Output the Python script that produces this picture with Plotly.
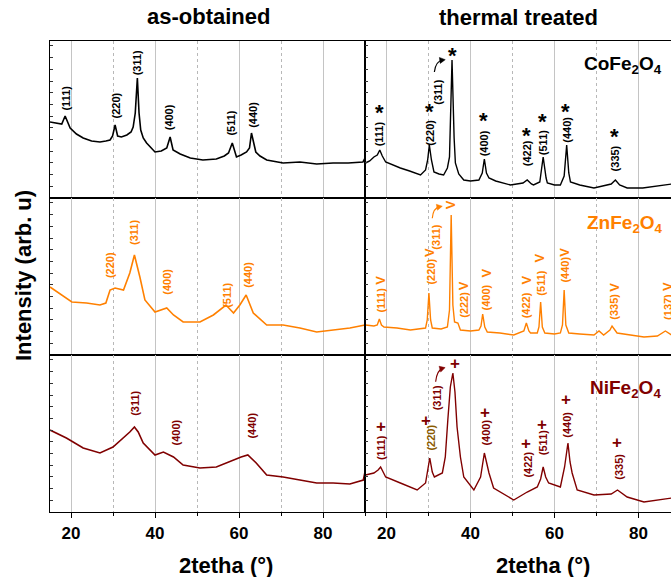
import math
import plotly.graph_objects as go
from plotly.subplots import make_subplots

# ---------------- data ----------------
# intensity in arbitrary units (0..157 per panel)
CO_AS_X = [15, 16.5, 17.8, 18.6, 19.8, 21.3, 22.9, 24.9, 26.9, 28.3, 29.3, 29.9, 30.5, 31.1, 32.0, 33.3,
           34.3, 34.8, 35.3, 35.8, 36.2, 36.6, 37.2, 38.0, 40.0, 41.5, 42.8, 43.6, 44.3, 46.0, 48.4, 51.4,
           54.6, 56.5, 57.5, 58.4, 59.4, 60.5, 61.8, 62.5, 62.97, 64.0, 65.0, 66.6, 70.5, 74.5, 78.5, 82.4,
           86.0, 89.5, 90]
CO_AS_Y = [76, 75, 74, 82, 70, 64, 60, 57, 56, 57, 58, 62, 73, 62, 61, 63,
           66, 71, 85, 120, 85, 68, 60, 55, 46, 47, 50, 61, 48, 44, 40, 38,
           39, 42, 45, 55, 41, 43, 46, 50, 65, 46, 42, 38, 35, 36, 34, 35,
           35, 36, 40]

CO_TT_X = [15, 16, 17, 17.8, 18.4, 19.0, 19.8, 21.5, 23.3, 25.5, 28.1, 29.3, 29.8, 30.2, 30.7, 31.3,
           32.5, 33.6, 34.5, 35.0, 35.6, 36.1, 36.4, 37.2, 38.4, 40.0, 42.0, 42.8, 43.3, 43.8, 44.4, 46.0,
           49.5, 52.5, 53.5, 54.5, 55.0, 56.5, 57.3, 58.0, 58.3, 60.0, 61.4, 62.3, 62.9, 63.4, 63.8, 66.0,
           69.4, 73.5, 74.5, 75.5, 77.3, 81.0, 85.2, 87.9]
CO_TT_Y = [35, 37, 41, 43, 48, 42, 36, 33, 30, 27, 23, 28, 38, 53, 38, 26,
           24, 23, 30, 41, 138, 60, 35, 24, 18, 17, 18, 25, 39, 25, 20, 17,
           13, 15, 18, 14, 13, 16, 41, 20, 15, 13, 13, 22, 53, 25, 16, 13,
           10, 14, 18, 13, 10, 10, 12, 14]

ZN_AS_X = [15, 17, 20.2, 23.7, 26.9, 28.3, 29.3, 30.5, 32.5, 34.0, 35.1, 36.4, 37.6, 40.0, 42.8, 44.4,
           46.7, 50.7, 53.9, 56.9, 58.7, 60.2, 61.7, 63.4, 66.6, 70.5, 74.5, 78.5, 82.4, 86.4, 90]
ZN_AS_Y = [68, 62, 53, 52, 50, 52, 65, 67, 65, 82, 100, 78, 55, 43, 47, 40,
           33, 33, 40, 50, 42, 50, 60, 42, 30, 30, 27, 23, 25, 27, 30]

ZN_TT_X = [15, 17, 17.8, 18.3, 18.8, 19.4, 22.5, 25.7, 29.3, 29.7, 30.1, 30.5, 30.9, 33.0, 34.5, 35.0,
           35.4, 35.8, 36.2, 37.0, 37.6, 40.0, 42.0, 42.5, 42.9, 43.4, 44.0, 47.0, 50.3, 52.7, 53.3, 53.9,
           54.3, 55.9, 56.3, 56.7, 57.1, 57.7, 60.0, 61.4, 61.9, 62.3, 62.7, 63.4, 66.0, 69.4, 70.6, 71.7,
           73.2, 73.7, 74.9, 78.0, 81.3, 84.5, 86.4, 87.9]
ZN_TT_Y = [30, 29, 30, 36, 30, 28, 27, 25, 27, 35, 62, 35, 27, 26, 28, 45,
           140, 50, 33, 32, 25, 24, 25, 29, 41, 28, 23, 22, 20, 24, 32, 24,
           22, 22, 28, 53, 28, 22, 21, 22, 30, 65, 30, 22, 21, 20, 24, 20,
           25, 29, 22, 20, 18, 19, 24, 20]

NI_AS_X = [15, 18.9, 22.9, 26.9, 30.0, 32.5, 34.0, 35.1, 36.0, 37.2, 40.0, 42.0, 44.4, 46.7, 50.7, 54.6,
           58.6, 60.5, 62.1, 64.1, 66.6, 70.5, 74.5, 78.5, 82.4, 86.4, 89.6, 90]
NI_AS_Y = [82, 74, 64, 59, 65, 74, 80, 85, 80, 69, 57, 60, 55, 47, 44, 45,
           52, 55, 57, 49, 37, 35, 32, 29, 29, 28, 32, 40]

NI_TT_X = [15, 17, 18.0, 18.6, 19.2, 19.8, 23.3, 27.3, 29.3, 29.8, 30.3, 30.9, 31.4, 33.3, 34.0, 34.6,
           35.2, 35.8, 36.3, 36.8, 37.6, 38.4, 40.8, 42.4, 42.9, 43.3, 43.8, 44.4, 45.5, 50.3, 53.5, 55.9,
           56.7, 57.3, 57.9, 58.6, 61.4, 62.4, 63.2, 63.7, 64.2, 65.4, 69.4, 73.5, 75.0, 77.3, 81.3, 84.5,
           87.9]
NI_TT_Y = [37, 39, 42, 45, 40, 35, 29, 22, 29, 40, 54, 40, 35, 39, 55, 92,
           125, 139, 120, 85, 55, 35, 22, 35, 50, 59, 50, 39, 24, 12, 20, 25,
           33, 45, 35, 29, 25, 45, 69, 50, 39, 22, 17, 18, 22, 15, 10, 12,
           14]

# hkl labels: (text, x, y)
CO_AS_HKL = [("(111)", 18.7, 100), ("(220)", 30.6, 92), ("(311)", 35.8, 135),
             ("(400)", 43.4, 81), ("(511)", 58.0, 75), ("(440)", 63.3, 83)]
ZN_AS_HKL = [("(220)", 29.3, 90), ("(311)", 35.0, 122), ("(400)", 42.8, 73),
             ("(511)", 57.1, 60), ("(440)", 62.1, 80)]
NI_AS_HKL = [("(311)", 35.2, 109), ("(400)", 45.1, 80), ("(440)", 63.0, 86)]

# (text, x, y, marker_x, marker_y)
CO_TT_HKL = [("(111)", 18.3, 64, 18.3, 86), ("(220)", 30.3, 65, 30.3, 87), ("(311)", 32.2, 106, 35.8, 143),
             ("(400)", 43.3, 55, 43.2, 78), ("(422)", 53.5, 45, 53.3, 63), ("(511)", 57.3, 55, 57.1, 77),
             ("(440)", 62.9, 68, 62.6, 87), ("(335)", 74.5, 40, 74.3, 62)]
ZN_TT_HKL = [("(111)", 18.6, 55, 18.4, 75), ("(220)", 30.5, 83, 30.1, 103), ("(311)", 31.7, 118, 35.2, 150),
             ("(222)", 38.4, 50, 38.3, 69), ("(400)", 43.8, 58, 43.8, 82), ("(422)", 53.3, 50, 53.1, 75),
             ("(511)", 56.7, 72, 56.4, 97), ("(440)", 62.4, 85, 62.2, 103), ("(335)", 74.1, 48, 74.1, 68),
             ("(137)", 87.0, 48, 86.8, 68)]
NI_TT_HKL = [("(111)", 18.7, 64, 18.6, 86), ("(220)", 30.5, 74, 29.5, 92), ("(311)", 32.1, 114, 36.3, 149),
             ("(400)", 43.6, 79, 43.4, 100), ("(422)", 53.6, 47, 53.3, 69), ("(511)", 57.3, 69, 57.1, 88),
             ("(440)", 62.9, 87, 62.8, 113), ("(335)", 75.3, 45, 74.9, 70)]

X_TICKS = [20, 40, 60, 80]
BLACK = "#000000"
ORANGE = "#FF8000"
DRED = "#800000"
BROWN = "#8a5a00"
FONT = "Liberation Sans, Arial, sans-serif"

W, H = 671, 577
PX_PER_X = 4.2

fig = make_subplots(rows=3, cols=2, horizontal_spacing=0, vertical_spacing=0)

xl = [50 / W, 365.5 / W]
xr = [365.5 / W, 1.0]
rows_px = [(41, 198), (198, 355), (355, 512)]
ydom = [[1 - b / H, 1 - t / H] for t, b in rows_px]

series = [
    (CO_AS_X, CO_AS_Y, 1, 1, BLACK), (CO_TT_X, CO_TT_Y, 1, 2, BLACK),
    (ZN_AS_X, ZN_AS_Y, 2, 1, ORANGE), (ZN_TT_X, ZN_TT_Y, 2, 2, ORANGE),
    (NI_AS_X, NI_AS_Y, 3, 1, DRED), (NI_TT_X, NI_TT_Y, 3, 2, DRED),
]
for xs, ys, r, c, col in series:
    fig.add_trace(go.Scatter(x=xs, y=ys, mode="lines",
                             line=dict(color=col, width=1.6 if c == 1 else 1.4),
                             hoverinfo="skip"), row=r, col=c)

def ax_id(r, c):
    n = (r - 1) * 2 + c
    return ("x" if n == 1 else f"x{n}"), ("y" if n == 1 else f"y{n}")

for r in range(1, 4):
    for c in range(1, 3):
        n = (r - 1) * 2 + c
        xname = "xaxis" if n == 1 else f"xaxis{n}"
        yname = "yaxis" if n == 1 else f"yaxis{n}"
        bottom = (r == 3)
        fig.layout[xname].update(
            domain=xl if c == 1 else xr,
            range=[15, 15 + 315.5 / PX_PER_X] if c == 1 else [15, 15 + 305.5 / PX_PER_X],
            tickvals=X_TICKS, ticktext=[str(v) for v in X_TICKS],
            showticklabels=bottom,
            ticks="outside" if bottom else "", ticklen=5, tickwidth=1.2, tickcolor="black",
            tickfont=dict(family=FONT, size=17, color="black", weight="bold"),
            showgrid=True, gridcolor="#c4c4c4", gridwidth=1,
            minor=dict(dtick=10, tick0=0, showgrid=True, griddash="dot", gridcolor="#b8b8b8",
                       gridwidth=1, ticks="outside" if bottom else "", ticklen=3, tickcolor="black"),
            showline=True, linecolor="black", linewidth=1.3, mirror=True, zeroline=False,
        )
        fig.layout[yname].update(
            domain=ydom[r - 1], range=[0, 157], showticklabels=False,
            ticks="inside", ticklen=3, tickwidth=1, tickcolor="#333333", dtick=11.7, tick0=0,
            showgrid=False, zeroline=False, showline=True, linecolor="black",
            linewidth=1.2 if c == 1 else 1.8, mirror=False,
        )

annotations = []

def bold(size, color):
    return dict(family=FONT, size=size, color=color, weight="bold")

def add_hkl(lst, r, c, color):
    xa, ya = ax_id(r, c)
    for t, x, y in lst:
        annotations.append(dict(text=t, x=x, y=y, xref=xa, yref=ya, showarrow=False,
                                xanchor="center", yanchor="middle",
                                textangle=-90, font=bold(11, color)))

add_hkl(CO_AS_HKL, 1, 1, BLACK)
add_hkl(ZN_AS_HKL, 2, 1, ORANGE)
add_hkl(NI_AS_HKL, 3, 1, DRED)

def add_tt(lst, r, color, marker, msize, mangle, mdy, special=None):
    xa, ya = ax_id(r, 2)
    for t, x, y, mx, my in lst:
        col = special.get(t, color) if special else color
        annotations.append(dict(text=t, x=x, y=y, xref=xa, yref=ya, showarrow=False,
                                xanchor="center", yanchor="middle",
                                textangle=-90, font=bold(11, col)))
        annotations.append(dict(text=marker, x=mx, y=my + mdy, xref=xa, yref=ya, showarrow=False,
                                xanchor="center", yanchor="middle",
                                textangle=mangle, font=bold(msize, color)))

add_tt(CO_TT_HKL, 1, BLACK, "*", 22, 0, -1)
add_tt(ZN_TT_HKL, 2, ORANGE, "V", 13, -90, 0)
add_tt(NI_TT_HKL, 3, DRED, "+", 17, 0, 0, special={"(220)": BROWN})

# compound names
for r, name, col, x, y in [(1, "CoFe<sub>2</sub>O<sub>4</sub>", BLACK, 76.3, 133),
                           (2, "ZnFe<sub>2</sub>O<sub>4</sub>", ORANGE, 76.7, 131),
                           (3, "NiFe<sub>2</sub>O<sub>4</sub>", DRED, 77.0, 123)]:
    xa, ya = ax_id(r, 2)
    annotations.append(dict(text=name, x=x, y=y, xref=xa, yref=ya, showarrow=False,
                            xanchor="center", yanchor="middle", font=bold(19, col)))

def ptext(text, x, y, size, angle=0):
    return dict(text=text, x=x / W, y=1 - y / H, xref="paper", yref="paper", showarrow=False,
                xanchor="center", yanchor="middle", textangle=angle, font=bold(size, "black"))

annotations += [
    ptext("as-obtained", 208, 17, 22),
    ptext("thermal treated", 518, 18, 22),
    ptext("2tetha (°)", 226, 565, 22),
    ptext("2tetha (°)", 543, 565, 22),
    ptext("Intensity (arb. u)", 23, 276, 22, -90),
]

# curved arrows pointing at the (311) markers
shapes = []
def curved_arrow(r, p0, pc, p1, color):
    xa, ya = ax_id(r, 2)
    shapes.append(dict(type="path", xref=xa, yref=ya,
                       path=f"M {p0[0]},{p0[1]} Q {pc[0]},{pc[1]} {p1[0]},{p1[1]}",
                       line=dict(color=color, width=1.2)))
    dxp = (p1[0] - pc[0]) * PX_PER_X
    dyp = (p1[1] - pc[1])
    L = math.hypot(dxp, dyp)
    ux, uy = dxp / L, dyp / L
    tip = (p1[0] + ux * 2.5 / PX_PER_X, p1[1] + uy * 2.5)
    bx, by = -ux * 5.5, -uy * 5.5
    nx, ny = -uy * 3, ux * 3
    a = (tip[0] + (bx + nx) / PX_PER_X, tip[1] + by + ny)
    b = (tip[0] + (bx - nx) / PX_PER_X, tip[1] + by - ny)
    shapes.append(dict(type="path", xref=xa, yref=ya,
                       path=f"M {tip[0]},{tip[1]} L {a[0]},{a[1]} L {b[0]},{b[1]} Z",
                       fillcolor=color, line=dict(color=color, width=0.5)))

curved_arrow(1, (31.4, 126), (31.7, 137), (33.4, 138), BLACK)
curved_arrow(2, (30.9, 136.7), (31.1, 147), (32.7, 148.3), ORANGE)
curved_arrow(3, (31.7, 130.3), (32.0, 142), (33.4, 143.7), DRED)

fig.update_layout(width=W, height=H, margin=dict(l=0, r=0, t=0, b=0),
                  plot_bgcolor="white", paper_bgcolor="white", showlegend=False,
                  annotations=annotations, shapes=shapes)

fig.write_html("out.html", config={"displayModeBar": False},
               post_script="document.body.style.margin='0px';document.body.style.overflow='hidden';")
